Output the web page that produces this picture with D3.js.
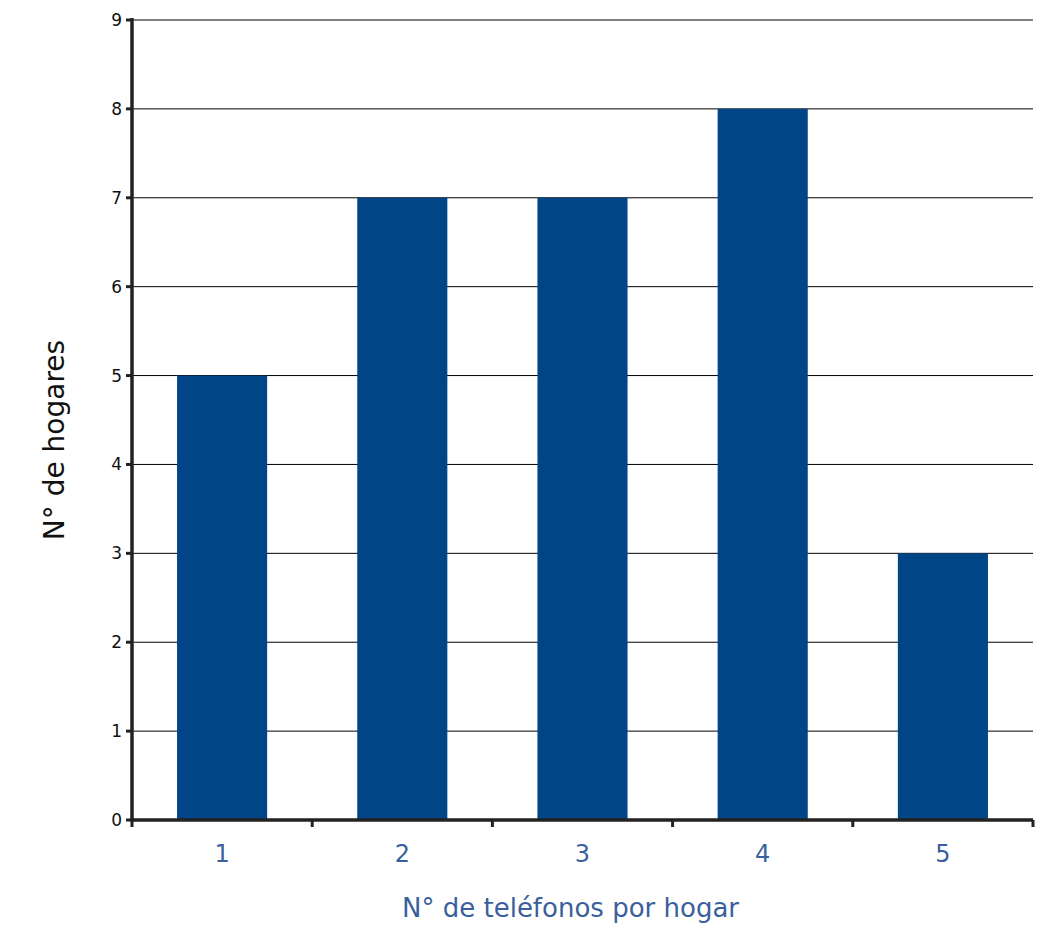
<!DOCTYPE html>
<html><head><meta charset="utf-8">
<script src="https://cdn.jsdelivr.net/npm/d3@7"></script>
<style>body{margin:0;background:#fff}</style>
</head><body><svg id="chart"></svg>
<script>
const categories = ["1", "2", "3", "4", "5"];
const values = [5, 7, 7, 8, 3];
const yTicks = [0, 1, 2, 3, 4, 5, 6, 7, 8, 9];

const width = 1055, height = 939;
const margin = { top: 20, right: 22, bottom: 119, left: 132 };
const innerW = width - margin.left - margin.right;
const innerH = height - margin.top - margin.bottom;

const svg = d3.select("#chart").attr("width", width).attr("height", height);
const g = svg.append("g").attr("transform", `translate(${margin.left},${margin.top})`);

const x = d3.scaleBand().domain(categories).range([0, innerW]).paddingInner(0.5).paddingOuter(0.25);
const y = d3.scaleLinear().domain([0, 9]).range([innerH, 0]);

// gridlines
g.selectAll("line.grid").data(yTicks.filter(d => d > 0)).join("line")
  .attr("x1", 0).attr("x2", innerW)
  .attr("y1", d => y(d)).attr("y2", d => y(d))
  .attr("stroke", "#000").attr("stroke-width", 1);

// bars
g.selectAll("rect.bar").data(values).join("rect")
  .attr("x", (d, i) => x(categories[i]))
  .attr("y", d => y(d))
  .attr("width", x.bandwidth())
  .attr("height", d => innerH - y(d))
  .attr("fill", "#004586");

// y axis
g.append("line").attr("x1", 0).attr("x2", 0).attr("y1", -2).attr("y2", innerH + 2)
  .attr("stroke", "#222").attr("stroke-width", 3.5);
g.selectAll("line.ytick").data(yTicks).join("line")
  .attr("x1", -6).attr("x2", 0).attr("y1", d => y(d)).attr("y2", d => y(d))
  .attr("stroke", "#222").attr("stroke-width", 3);
g.selectAll("text.ylab").data(yTicks).join("text")
  .attr("x", -10).attr("y", d => y(d)).attr("dy", "0.35em")
  .attr("text-anchor", "end").attr("font-family", "DejaVu Sans, sans-serif")
  .attr("font-size", 17).attr("fill", "#111").text(d => d);

// x axis
g.append("line").attr("x1", -2).attr("x2", innerW).attr("y1", innerH).attr("y2", innerH)
  .attr("stroke", "#222").attr("stroke-width", 3.5);
const step = x.step();
g.selectAll("line.xtick").data(d3.range(categories.length + 1)).join("line")
  .attr("x1", d => d * step).attr("x2", d => d * step)
  .attr("y1", innerH).attr("y2", innerH + 7)
  .attr("stroke", "#222").attr("stroke-width", 3);
g.selectAll("text.xlab").data(categories).join("text")
  .attr("x", d => x(d) + x.bandwidth() / 2).attr("y", innerH + 42)
  .attr("text-anchor", "middle").attr("font-family", "DejaVu Sans, sans-serif")
  .attr("font-size", 24).attr("fill", "#3a5f9c").text(d => d);

// titles
svg.append("text").attr("x", margin.left + innerW / 2 - 12).attr("y", 917)
  .attr("text-anchor", "middle").attr("font-family", "DejaVu Sans, sans-serif")
  .attr("font-size", 26).attr("fill", "#3a5f9c").text("N° de teléfonos por hogar");
svg.append("text").attr("transform", "translate(64,440) rotate(-90)")
  .attr("text-anchor", "middle").attr("font-family", "DejaVu Sans, sans-serif")
  .attr("font-size", 28).attr("fill", "#111").text("N° de hogares");
</script></body></html>
